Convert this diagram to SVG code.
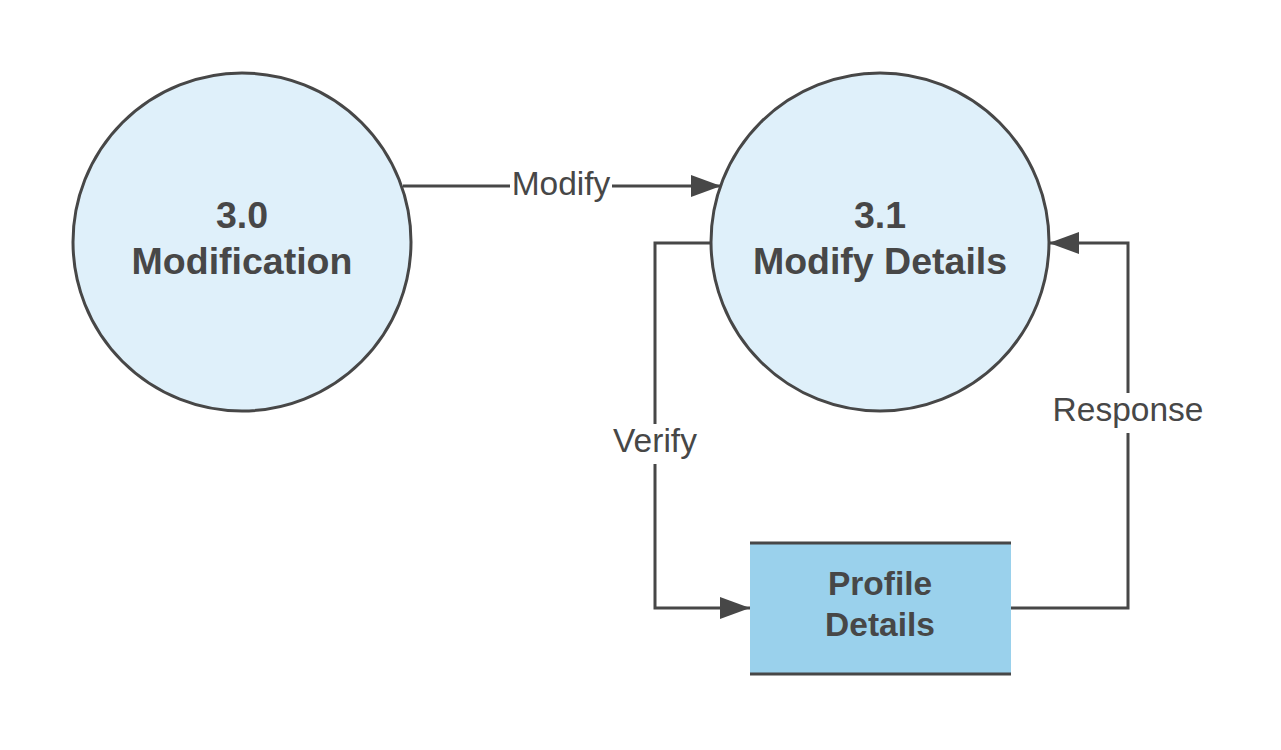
<svg xmlns="http://www.w3.org/2000/svg" width="1281" height="750" viewBox="0 0 1281 750">
<style>
.c{fill:#dff0fa;stroke:#474747;stroke-width:3}
.t{font-family:"Liberation Sans",Arial,sans-serif;fill:#474747;text-anchor:middle}
.b{font-weight:bold;font-size:37.5px}
.bb{font-weight:bold;font-size:33.5px}
.l{font-size:33.5px}
.w{stroke:#474747;stroke-width:3;fill:none}
.bg{fill:#ffffff}
</style>
<defs>
<marker id="a" viewBox="0 0 30 22" refX="30" refY="11" markerWidth="30" markerHeight="22" orient="auto" markerUnits="userSpaceOnUse">
<path d="M0,0 L30,11 L0,22 z" fill="#474747"/>
</marker>
</defs>
<rect width="1281" height="750" fill="#ffffff"/>
<g id="connectors">
<path class="w" d="M403,186 L721,186" marker-end="url(#a)"/>
<path class="w" d="M711,243 L655,243 L655,608 L750,608" marker-end="url(#a)"/>
<path class="w" d="M1011,608 L1128,608 L1128,243 L1049,243" marker-end="url(#a)"/>
<rect class="bg" x="510" y="166" width="102" height="36"/>
<text class="t l" x="561" y="195">Modify</text>
<rect class="bg" x="608" y="424" width="94" height="40"/>
<text class="t l" x="655" y="452">Verify</text>
<rect class="bg" x="1050" y="393" width="156" height="40"/>
<text class="t l" x="1128" y="421">Response</text>
</g>
<g id="n30">
<circle class="c" cx="242" cy="242" r="169"/>
<text class="t b" x="242" y="228">3.0</text>
<text class="t b" x="242" y="274">Modification</text>
</g>
<g id="n31">
<circle class="c" cx="880" cy="242" r="169"/>
<text class="t b" x="880" y="228">3.1</text>
<text class="t b" x="880" y="274">Modify Details</text>
</g>
<g id="store">
<rect x="750" y="543" width="261" height="131" fill="#9ad1ec"/>
<line class="w" x1="750" y1="543" x2="1011" y2="543"/>
<line class="w" x1="750" y1="674" x2="1011" y2="674"/>
<text class="t bb" x="880" y="595">Profile</text>
<text class="t bb" x="880" y="636">Details</text>
</g>
</svg>
